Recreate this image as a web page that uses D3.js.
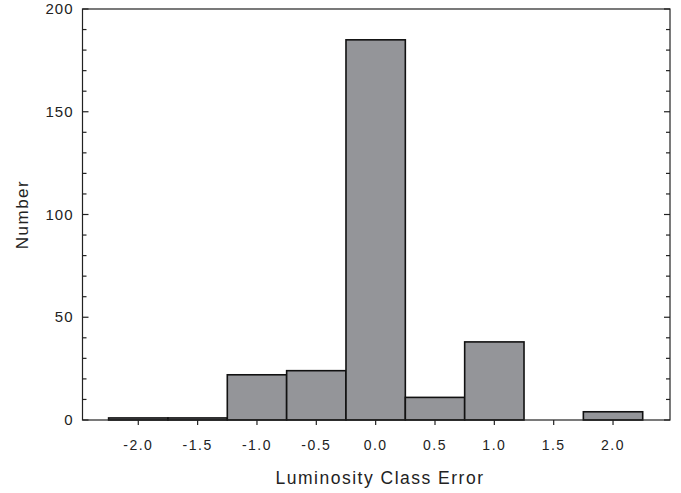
<!DOCTYPE html>
<html lang="en">
<head>
  <meta charset="UTF-8">
  <title>Luminosity Class Error</title>
  <script src="https://d3js.org/d3.v7.min.js"></script>
  <style>
    body { margin: 0; background: white; font-family: "Liberation Sans", Arial, sans-serif; }
    svg text { fill: #222; }
  </style>
</head>
<body>
  <svg width="681" height="493"></svg>
  <script>
    // histogram bins (centres) and counts
    const binCenters = [-2.0, -1.5, -1.0, -0.5, 0.0, 0.5, 1.0, 1.5, 2.0];
    const counts = [1, 1, 22, 24, 185, 11, 38, 0, 4];
    const xTicks = [-2.0, -1.5, -1.0, -0.5, 0.0, 0.5, 1.0, 1.5, 2.0];
    const yTicks = [0, 50, 100, 150, 200];
    const binWidth = 0.5;

    const svg = d3.select("svg");
    const plotL = 82.5, plotR = 670, plotT = 9, plotB = 420;

    const x = d3.scaleLinear().domain([-2.47, 2.48]).range([plotL, plotR]);
    const y = d3.scaleLinear().domain([0, 200]).range([plotB, plotT]);

    // bars
    svg.append("g")
      .selectAll("rect")
      .data(binCenters.map((c, i) => ({c, v: counts[i]})).filter(d => d.v > 0))
      .enter()
      .append("rect")
      .attr("x", d => x(d.c - binWidth / 2))
      .attr("width", d => x(d.c + binWidth / 2) - x(d.c - binWidth / 2))
      .attr("y", d => y(d.v))
      .attr("height", d => y(0) - y(d.v))
      .attr("fill", "#949599")
      .attr("stroke", "#111")
      .attr("stroke-width", 1.6);

    // frame
    svg.append("rect")
      .attr("x", plotL).attr("y", plotT)
      .attr("width", plotR - plotL).attr("height", plotB - plotT)
      .attr("fill", "none").attr("stroke", "#222").attr("stroke-width", 1.2);

    // y minor + major ticks, inward on both sides
    const yMinor = d3.range(0, 201, 10);
    const yg = svg.append("g").attr("stroke", "#222").attr("stroke-width", 1.2);
    yMinor.forEach(v => {
      const len = v % 50 === 0 ? 6 : 4;
      yg.append("line").attr("x1", plotL).attr("x2", plotL + len).attr("y1", y(v)).attr("y2", y(v));
      yg.append("line").attr("x1", plotR).attr("x2", plotR - len).attr("y1", y(v)).attr("y2", y(v));
    });

    svg.append("g")
      .selectAll("text")
      .data(yTicks)
      .enter()
      .append("text")
      .attr("x", plotL - 9)
      .attr("y", d => y(d) + 5)
      .attr("text-anchor", "end")
      .attr("font-size", 15)
      .attr("letter-spacing", 1)
      .text(d => d);

    // x ticks, outward
    svg.append("g").attr("stroke", "#222").attr("stroke-width", 1.2)
      .selectAll("line")
      .data(xTicks)
      .enter()
      .append("line")
      .attr("x1", d => x(d)).attr("x2", d => x(d))
      .attr("y1", plotB).attr("y2", plotB + 5);

    svg.append("g")
      .selectAll("text")
      .data(xTicks)
      .enter()
      .append("text")
      .attr("x", d => x(d))
      .attr("y", plotB + 30)
      .attr("text-anchor", "middle")
      .attr("font-size", 14)
      .attr("letter-spacing", 1.5)
      .text(d => d3.format(".1f")(d).replace("−", "-"));

    // axis titles
    svg.append("text")
      .attr("x", 380)
      .attr("y", 484)
      .attr("text-anchor", "middle")
      .attr("font-size", 17.5)
      .attr("letter-spacing", 1.5)
      .text("Luminosity Class Error");

    svg.append("text")
      .attr("transform", `translate(28, ${(plotT + plotB) / 2}) rotate(-90)`)
      .attr("text-anchor", "middle")
      .attr("font-size", 17)
      .attr("letter-spacing", 1.5)
      .text("Number");
  </script>
</body>
</html>
